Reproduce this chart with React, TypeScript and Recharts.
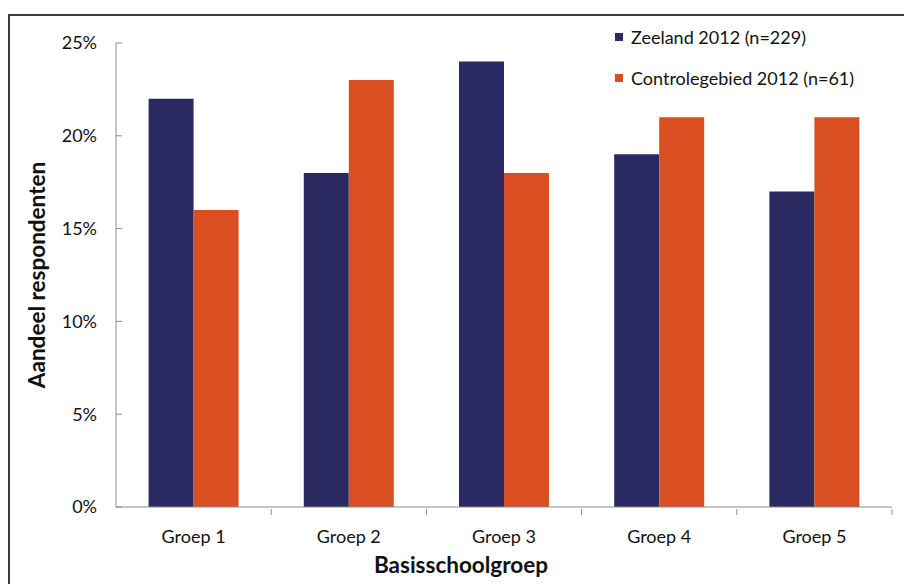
import { Bar, BarChart, Label, XAxis, YAxis } from "recharts";

const groups = ["Groep 1", "Groep 2", "Groep 3", "Groep 4", "Groep 5"];
const zeeland = [22, 18, 24, 19, 17];
const controle = [16, 23, 18, 21, 21];
const yTicks = [0, 5, 10, 15, 20, 25];

const series = [
  { key: "zeeland", name: "Zeeland 2012 (n=229)", color: "#2b2a62" },
  { key: "controle", name: "Controlegebied 2012 (n=61)", color: "#d94f22" },
];

const data = groups.map((group, i) => ({
  group,
  zeeland: zeeland[i],
  controle: controle[i],
}));

const FONT = "Lato, 'Noto Sans', sans-serif";
const AXIS = "#8c8c8c";

// category label plus a tick mark on the right-hand boundary of each band
function GroupTick(props: any) {
  const { x, y, payload } = props;
  const half = payload?.offset ?? 0;
  return (
    <g>
      <line x1={x + half} x2={x + half} y1={y} y2={y - 6} stroke={AXIS} strokeWidth={1} />
      <text x={x} y={y + 28} textAnchor="middle" fontSize={18} fill="#111" fontFamily={FONT}>
        {payload.value}
      </text>
    </g>
  );
}

function SeriesLegend() {
  return (
    <div
      style={{
        position: "absolute",
        left: 615,
        top: 16,
        fontFamily: FONT,
        fontSize: 18,
        color: "#111",
      }}
    >
      {series.map((s) => (
        <div key={s.key} style={{ display: "flex", alignItems: "center", height: 41 }}>
          <span style={{ width: 8, height: 8, background: s.color, marginRight: 8 }} />
          {s.name}
        </div>
      ))}
    </div>
  );
}

export default function App() {
  return (
    <div style={{ position: "absolute", left: 0, top: 0, width: 904, height: 584, background: "#fff" }}>
      <div
        style={{
          position: "absolute",
          left: 8,
          top: 14,
          right: 0,
          bottom: 0,
          borderTop: "2px solid #3c3c3c",
          borderLeft: "2px solid #3c3c3c",
        }}
      />
      <BarChart
        width={904}
        height={584}
        data={data}
        margin={{ top: 43, right: 12, bottom: 0, left: 0 }}
        barCategoryGap="21%"
        barGap={0}
        style={{ position: "absolute", left: 0, top: 0 }}
      >
        <XAxis
          dataKey="group"
          height={77}
          stroke={AXIS}
          tickLine={false}
          tick={<GroupTick />}
          interval={0}
        >
          <Label
            value="Basisschoolgroep"
            position="insideBottom"
            offset={11}
            dx={-43}
            style={{ fontFamily: FONT, fontSize: 22.5, fontWeight: 700, fill: "#111" }}
          />
        </XAxis>
        <YAxis
          width={116}
          domain={[0, 25]}
          ticks={yTicks}
          tickFormatter={(v) => `${v}%`}
          stroke={AXIS}
          tickSize={-6}
          tickMargin={25}
          tick={{ fontFamily: FONT, fontSize: 18, fill: "#111" }}
        >
          <Label
            value="Aandeel respondenten"
            angle={-90}
            position="insideLeft"
            offset={37}
            style={{ fontFamily: FONT, fontSize: 22.5, fontWeight: 700, fill: "#111", textAnchor: "middle" }}
          />
        </YAxis>
        {series.map((s) => (
          <Bar key={s.key} dataKey={s.key} name={s.name} fill={s.color} isAnimationActive={false} />
        ))}
      </BarChart>
      <SeriesLegend />
    </div>
  );
}
